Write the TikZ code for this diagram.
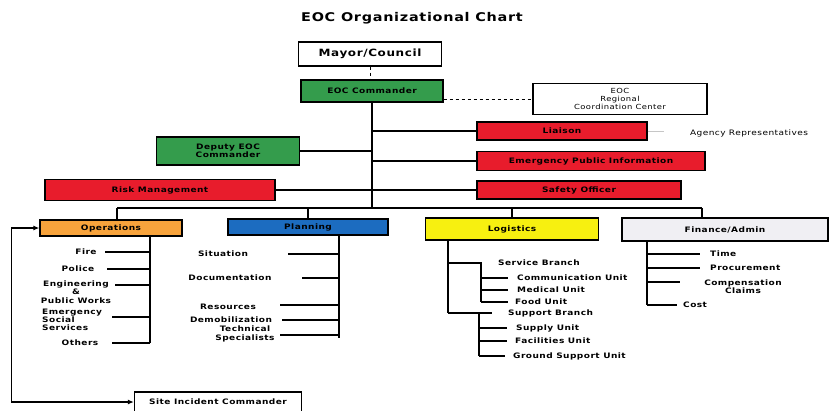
\documentclass[tikz,border=0pt]{standalone}
\usepackage{fontspec}
\setmainfont{DejaVu Sans}
\newfontfamily\chartfont{DejaVu Sans}[FakeStretch=1.2,LetterSpace=6]
\usetikzlibrary{arrows.meta}
\definecolor{eocgreen}{RGB}{52,156,76}
\definecolor{eocred}{RGB}{232,28,44}
\definecolor{eocorange}{RGB}{247,163,60}
\definecolor{eocblue}{RGB}{28,108,192}
\definecolor{eocyellow}{RGB}{247,240,16}
\definecolor{eocgray}{RGB}{240,239,243}
\begin{document}
\begin{tikzpicture}[x=1pt,y=-1pt,
    unit/.style={draw=black,line width=1.3pt,inner sep=1pt,align=center,
      font=\chartfont\bfseries\fontsize{7.5}{8.5}\selectfont},
    lbl/.style={inner sep=0pt,align=center,
      font=\chartfont\bfseries\fontsize{7.5}{8.2}\selectfont},
    link/.style={line width=1.3pt},
    thickline/.style={line width=1.7pt}]
    \useasboundingbox (0,0) rectangle (830,410);

    \node[font=\chartfont\bfseries\fontsize{12}{14}\selectfont] (title) at (412,18) {EOC Organizational Chart};

    \node[unit,fill=white,minimum width=143pt,minimum height=24pt,font=\chartfont\bfseries\fontsize{10}{12}\selectfont] (mayor) at (370,54) {Mayor/Council};
    \node[unit,fill=eocgreen,minimum width=142pt,minimum height=22pt] (cmd) at (372,91) {EOC Commander};
    \node[unit,fill=white,minimum width=174pt,minimum height=31pt,font=\chartfont\fontsize{7}{7.8}\selectfont] (rcc) at (620,99) {EOC\\Regional\\Coordination Center};
    \node[unit,fill=eocred,minimum width=170pt,minimum height=18pt] (liaison) at (562,131) {Liaison};
    \node[unit,fill=eocred,minimum width=228pt,minimum height=19pt] (epi) at (591,161) {Emergency Public Information};
    \node[unit,fill=eocred,minimum width=204pt,minimum height=18pt] (safety) at (579,190) {Safety Officer};
    \node[unit,fill=eocgreen,minimum width=143pt,minimum height=28pt] (deputy) at (228,151) {Deputy EOC\\Commander};
    \node[unit,fill=eocred,minimum width=230pt,minimum height=21pt] (risk) at (160,190) {Risk Management};
    \node[font=\chartfont\fontsize{7.5}{8}\selectfont] (agency) at (749,133) {Agency Representatives};

    \node[unit,fill=eocorange,minimum width=142pt,minimum height=16pt] (ops) at (111,228) {Operations};
    \node[unit,fill=eocblue,minimum width=160pt,minimum height=16pt] (plan) at (308,227) {Planning};
    \node[unit,fill=eocyellow,minimum width=173pt,minimum height=22pt] (log) at (512,229) {Logistics};
    \node[unit,fill=eocgray,minimum width=206pt,minimum height=23pt] (fin) at (725,229.5) {Finance/Admin};
    \node[unit,fill=white,minimum width=167pt,minimum height=20pt] (site) at (218,402) {Site Incident Commander};

    \draw[dashed,line width=1pt] (mayor.south) -- (mayor.south |- cmd.north);
    \draw[dashed,line width=1pt] (cmd.east |- rcc) -- (rcc.west);
    \coordinate (trunk) at (372,208);
    \draw[link] (cmd.south) -- (trunk);
    \draw[link] (liaison.west) -- (liaison.west -| trunk);
    \draw[link] (epi.west) -- (epi.west -| trunk);
    \draw[link] (safety.west) -- (safety.west -| trunk);
    \draw[link] (deputy.east) -- (deputy.east -| trunk);
    \draw[link] (risk.east) -- (risk.east -| trunk);
    \draw[gray!45,line width=1pt] (liaison.east) -- ++(16,0);

    \coordinate (opsdrop) at (117,208);
    \coordinate (findrop) at (702,208);
    \draw[link] (opsdrop) -- (findrop);
    \draw[link] (opsdrop) -- (opsdrop |- ops.north);
    \draw[link] (plan.north |- trunk) -- (plan.north);
    \draw[link] (log.north |- trunk) -- (log.north);
    \draw[link] (findrop) -- (findrop |- fin.north);

    \draw[thickline,{Latex[length=6pt,width=5pt]}-{Latex[length=6pt,width=5pt]}] (ops.west) -- ++(-28,0) |- (site.west);

    \coordinate (opsend) at (150,343);
    \draw[link] (opsend |- ops.south) -- (opsend);
    \node[lbl] (fire) at (86,252) {Fire};
    \node[lbl] (police) at (78,269) {Police};
    \node[lbl] (eng) at (76,292) {Engineering\\\&\\Public Works};
    \node[lbl,align=left,anchor=west] (ess) at (42,320) {Emergency\\Social\\Services};
    \node[lbl] (others) at (80,343) {Others};
    \draw[link] (opsend |- fire) -- ++(-45,0);
    \draw[link] (opsend |- police) -- ++(-43,0);
    \draw[link] (opsend |- eng) ++(0,-7) -- ++(-35,0);
    \draw[link] (opsend |- ess) ++(0,-3) -- ++(-38,0);
    \draw[link] (opsend) -- ++(-38,0);

    \coordinate (planend) at (339,338);
    \draw[link] (plan.south -| planend) -- (planend);
    \node[lbl] (sit) at (223,254) {Situation};
    \node[lbl] (doc) at (230,278) {Documentation};
    \node[lbl] (res) at (228,307) {Resources};
    \node[lbl] (demob) at (231,320) {Demobilization};
    \node[lbl] (tech) at (245,334) {Technical\\Specialists};
    \draw[link] (planend |- sit) -- ++(-51,0);
    \draw[link] (planend |- doc) -- ++(-37,0);
    \draw[link] (planend |- res) ++(0,-2) -- ++(-59,0);
    \draw[link] (planend |- demob) -- ++(-57,0);
    \draw[link] (planend |- tech) ++(0,1) -- ++(-59,0);

    \coordinate (logend) at (448,313);
    \draw[thickline] (log.south -| logend) -- (logend);
    \node[lbl,anchor=west] (svcbr) at (498,263) {Service Branch};
    \node[lbl,anchor=west] (comm) at (517,278) {Communication Unit};
    \node[lbl,anchor=west] (med) at (517,290) {Medical Unit};
    \node[lbl,anchor=west] (food) at (515,302) {Food Unit};
    \node[lbl,anchor=west] (supbr) at (508,313) {Support Branch};
    \node[lbl,anchor=west] (supply) at (516,328) {Supply Unit};
    \node[lbl,anchor=west] (facil) at (515,341) {Facilities Unit};
    \node[lbl,anchor=west] (ground) at (513,356) {Ground Support Unit};
    \coordinate (svcv) at (481,302);
    \coordinate (supv) at (479,356);
    \draw[thickline] (logend |- svcbr) -| (svcv);
    \draw[thickline] (svcv |- comm) -- ++(27,0);
    \draw[thickline] (svcv |- med) -- ++(27,0);
    \draw[thickline] (svcv) -- ++(27,0);
    \draw[thickline] (logend) -- ++(44,0);
    \draw[thickline] (supv |- logend) -- (supv);
    \draw[thickline] (supv |- supply) -- ++(28,0);
    \draw[thickline] (supv |- facil) -- ++(28,0);
    \draw[thickline] (supv) -- ++(26,0);

    \coordinate (finend) at (647,305);
    \draw[thickline] (fin.south -| finend) -- (finend);
    \node[lbl,anchor=west] (time) at (710,254) {Time};
    \node[lbl,anchor=west] (proc) at (710,268) {Procurement};
    \node[lbl] (comp) at (743,287) {Compensation\\Claims};
    \node[lbl,anchor=west] (cost) at (683,305) {Cost};
    \draw[thickline] (finend |- time) -- ++(53,0);
    \draw[thickline] (finend |- proc) -- ++(53,0);
    \draw[thickline] (finend |- comp) ++(0,-5) -- ++(33,0);
    \draw[thickline] (finend) -- ++(30,0);
\end{tikzpicture}
\end{document}
